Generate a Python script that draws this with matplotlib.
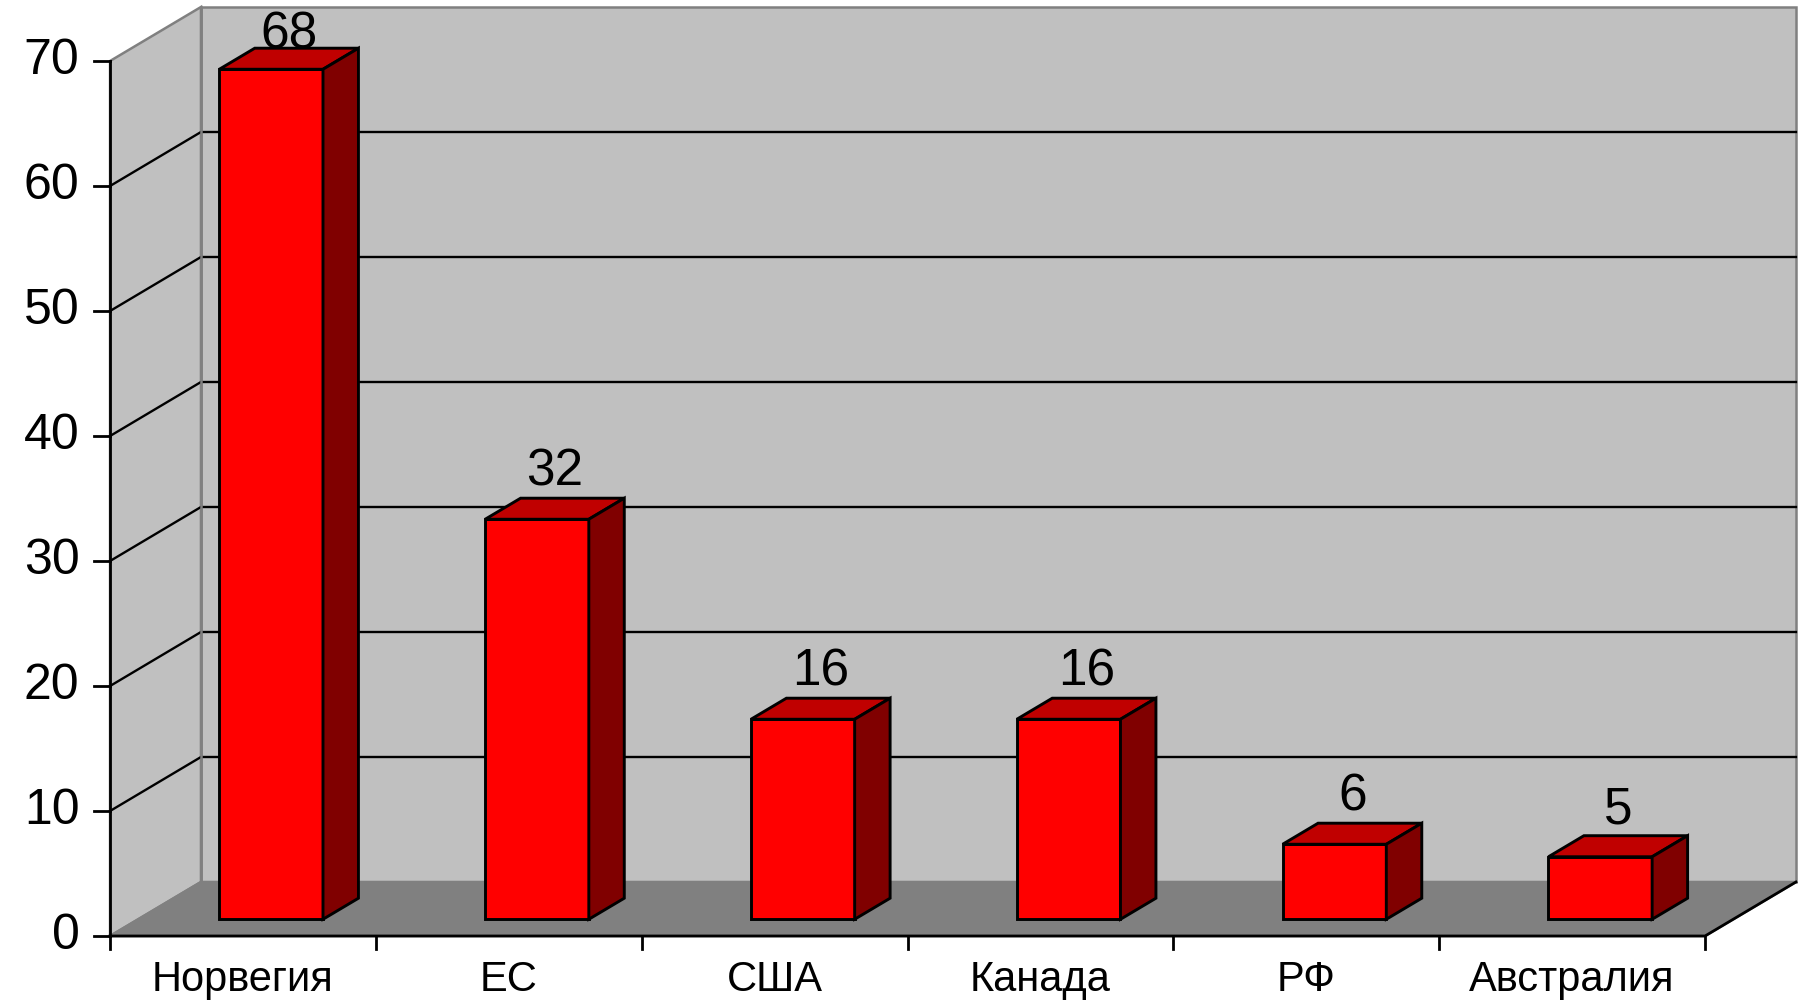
import matplotlib
matplotlib.use('Agg')
import matplotlib.pyplot as plt
from matplotlib.patches import Polygon

plt.rcParams['font.family'] = ['Liberation Sans', 'DejaVu Sans']

countries = ['Норвегия', 'ЕС', 'США', 'Канада', 'РФ', 'Австралия']
values = [68, 32, 16, 16, 6, 5]
yticks = [0, 10, 20, 30, 40, 50, 60, 70]

# pseudo-3d geometry (category units / value units)
dx, dy = 0.342, 4.32
f1, f2 = 0.31, 0.70
w = 0.195
n = len(countries)
x0, x1 = -0.5, n - 0.5
ymax = yticks[-1]

fig = plt.figure(figsize=(18.01, 10.01), dpi=100)
ax = fig.add_axes([0, 0, 1, 1])
ax.set_xlim(-0.914, 5.861)
ax.set_ylim(-5.2, 74.88)
ax.axis('off')

wall = '#C0C0C0'
edge = '#808080'
# back wall
ax.add_patch(Polygon([(x0 + dx, dy), (x1 + dx, dy), (x1 + dx, ymax + dy), (x0 + dx, ymax + dy)],
                     closed=True, fc=wall, ec=edge, lw=1.8, zorder=1))
# side wall
ax.add_patch(Polygon([(x0, 0), (x0 + dx, dy), (x0 + dx, ymax + dy), (x0, ymax)],
                     closed=True, fc=wall, ec=edge, lw=1.8, zorder=1))
# floor
ax.add_patch(Polygon([(x0, 0), (x1, 0), (x1 + dx, dy), (x0 + dx, dy)],
                     closed=True, fc='#808080', ec=edge, lw=1.8, zorder=1))

# gridlines
for v in yticks[1:-1]:
    ax.plot([x0, x0 + dx, x1 + dx], [v, v + dy, v + dy], color='black', lw=1.7, zorder=2)
ax.plot([x0 + dx, x0 + dx], [dy, ymax + dy], color=edge, lw=1.8, zorder=2)

# axes lines
ax.plot([x0, x0], [0, ymax], color='black', lw=2.0, zorder=3)
ax.plot([x0, x1, x1 + dx], [0, 0, dy], color='black', lw=2.0, zorder=3)
for v in yticks:
    ax.plot([x0 - 0.06, x0], [v, v], color='black', lw=2.0, zorder=3)
    ax.text(x0 - 0.115, v, str(v), ha='right', va='center', fontsize=36)
for i in range(n + 1):
    ax.plot([x0 + i, x0 + i], [0, -1.0], color='black', lw=2.0, zorder=3)

# bars
ddx, ddy = (f2 - f1) * dx, (f2 - f1) * dy
for i, (name, v) in enumerate(zip(countries, values)):
    bx0 = i - w + f1 * dx
    bx1 = i + w + f1 * dx
    by0 = f1 * dy
    by1 = v + f1 * dy
    ax.add_patch(Polygon([(bx0, by0), (bx1, by0), (bx1, by1), (bx0, by1)],
                         closed=True, fc='#FF0000', ec='black', lw=2.1, zorder=5))
    ax.add_patch(Polygon([(bx0, by1), (bx1, by1), (bx1 + ddx, by1 + ddy), (bx0 + ddx, by1 + ddy)],
                         closed=True, fc='#C00000', ec='black', lw=2.1, zorder=5))
    ax.add_patch(Polygon([(bx1, by0), (bx1 + ddx, by0 + ddy), (bx1 + ddx, by1 + ddy), (bx1, by1)],
                         closed=True, fc='#800000', ec='black', lw=2.1, zorder=5))
    ly = min(by1 + ddy + 1.0, 71.0)
    ax.text((bx0 + bx1 + ddx) / 2, ly, str(v), ha='center', va='baseline', fontsize=37, zorder=6)
    ax.text(i, -3.55, name, ha='center', va='center', fontsize=30)

fig.savefig('out.png', dpi=100)
